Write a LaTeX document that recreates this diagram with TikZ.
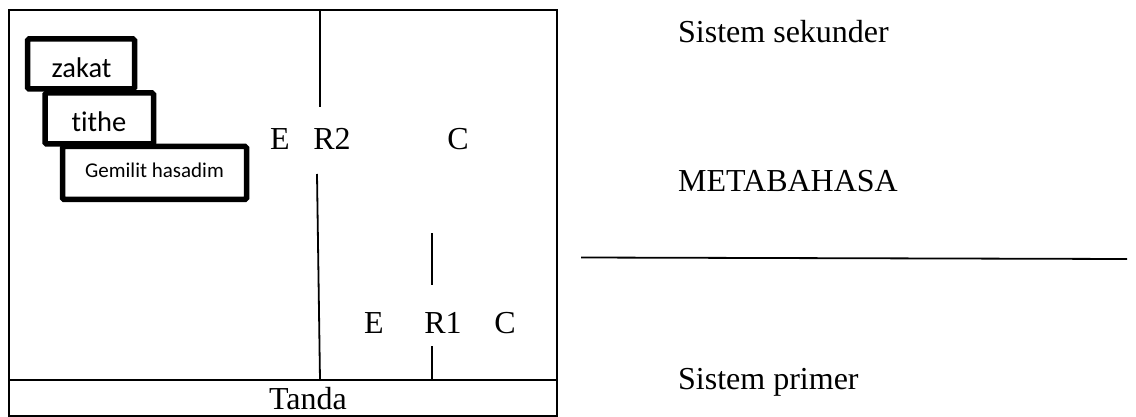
\documentclass[tikz,border=0pt]{standalone}
\usepackage{fontspec}
\setmainfont{Liberation Serif}
\newfontfamily\calfont[Ligatures={NoCommon}]{Carlito}
\begin{document}
\begin{tikzpicture}[x=1pt,y=-1pt,
  thin line/.style={line width=1.8pt},
  serif/.style={inner sep=0pt,font=\fontsize{32}{38}\selectfont},
  boxed/.style={draw,line width=5.5pt,fill=white,rounded corners=1.5pt},
  sanslabel/.style={inner sep=0pt,anchor=base}]
\useasboundingbox (0,0) rectangle (1136,417);
% outer frame
\draw[thin line] (9,10) rectangle (557,416);
\draw[thin line] (9,380) -- (557,380);
\node[serif,anchor=base] (tanda) at (308,409) {Tanda};
% R2 lines
\coordinate (r2a) at (320,10);
\coordinate (r2b) at (320,107);
\coordinate (r2c) at (317,174);
\coordinate (r2d) at (320,380);
\draw[thin line] (r2a) -- (r2b);
\draw[thin line] (r2c) -- (r2d);
% R1 lines
\coordinate (r1a) at (432,233);
\coordinate (r1b) at (432,285);
\coordinate (r1c) at (432,346);
\coordinate (r1d) at (432,380);
\draw[thin line] (r1a) -- (r1b);
\draw[thin line] (r1c) -- (r1d);
% labels upper
\node[serif,anchor=base] (e2) at (280,150) {E};
\node[serif,anchor=base] (r2) at (332,150) {R2};
\node[serif,anchor=base] (c2) at (458,150) {C};
% labels lower
\node[serif,anchor=base] (e1) at (374,333) {E};
\node[serif,anchor=base] (r1) at (443,333) {R1};
\node[serif,anchor=base] (c1) at (505,333) {C};
% boxes
\draw[boxed] (27.5,39) rectangle (134.5,89);
\node[sanslabel,font=\calfont\fontsize{28.5}{34}\selectfont] (zakat) at (81.5,78) {zakat};
\draw[boxed] (45,93) rectangle (153.5,144);
\node[sanslabel,font=\calfont\fontsize{28.5}{34}\selectfont] (tithe) at (99,131.5) {tithe};
\draw[boxed] (62.5,146.5) rectangle (246.5,199.5);
\node[sanslabel,font=\calfont\fontsize{21}{25}\selectfont] (gem) at (154.5,177.5) {Gemilit hasadim};
% right side
\node[serif,anchor=base west] (sek) at (678,43) {Sistem sekunder};
\node[serif,anchor=base west] (meta) at (678,192) {METABAHASA};
\coordinate (la) at (581,257.5);
\coordinate (lb) at (1127,259);
\draw[thin line] (la) -- (lb);
\node[serif,anchor=base west] (prim) at (678,389) {Sistem primer};
\end{tikzpicture}
\end{document}
